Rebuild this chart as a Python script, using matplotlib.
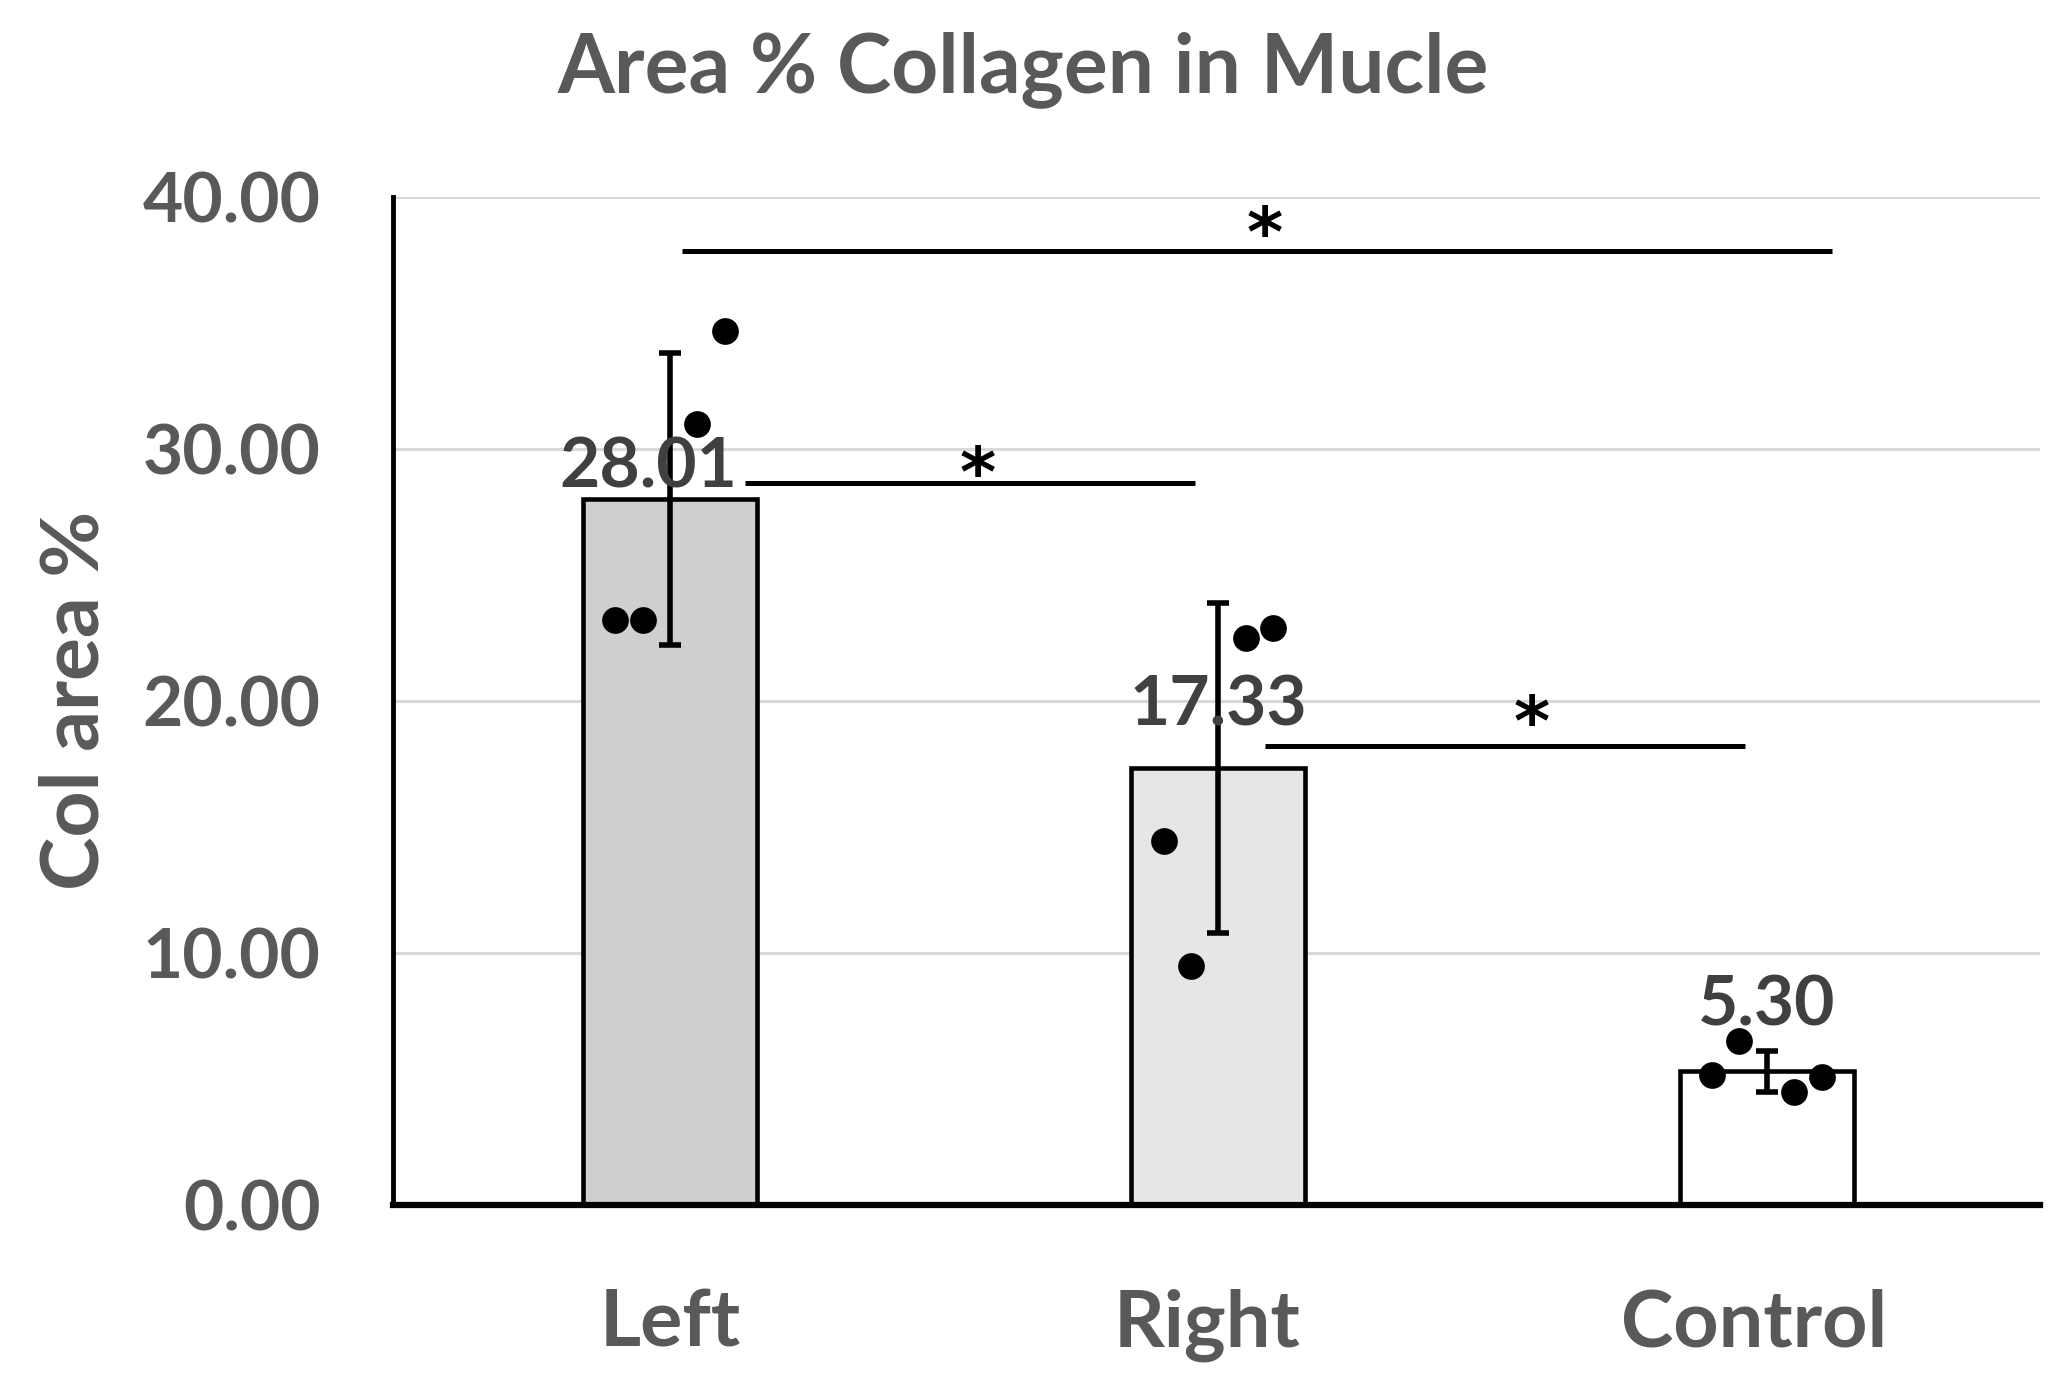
import matplotlib
matplotlib.use("Agg")
import matplotlib.pyplot as plt
import matplotlib.transforms as mtransforms
import numpy as np

# ---- data ----
categories = ["Left", "Right", "Control"]
means = [28.01, 17.33, 5.30]
sds = [5.8, 6.55, 0.82]
left_points = [23.2, 23.2, 31.0, 34.7]
right_points = [14.45, 9.5, 22.5, 22.9]
control_points = [5.15, 6.5, 4.47, 5.08]
mean_labels = ["28.01", "17.33", "5.30"]
yticks = [0, 10, 20, 30, 40]
ytick_labels = ["0.00", "10.00", "20.00", "30.00", "40.00"]
# significance brackets: (x_start, x_end, y)
sig_pairs = [(0.137, 0.957, 28.65), (1.085, 1.96, 18.2), (0.022, 2.118, 37.86)]
sig_text = ["*", "*", "*"]
title = "Area % Collagen in Mucle"
ylabel = "Col area %"

# ---- style / layout ----
plt.rcParams['font.family'] = ['Lato', 'DejaVu Sans']
GRAY_TXT = "#595959"
LBL_TXT = "#404040"
bar_colors = ["#D0CECE", "#E7E6E6", "#FFFFFF"]
jitter = [-0.1, -0.05, 0.05, 0.1]
star_pos = [(0.562, 29.44), (1.572, 19.56), (1.085, 38.97)]  # asterisk centres
label_off = [(-22, 12), (0, 43), (0, 46)]                     # px offsets
xtick_shift = [0, -11, -13]                                   # px

W, H = 2070, 1379
fig = plt.figure(figsize=(W / 100, H / 100), dpi=100)
ax = fig.add_axes([393 / W, 1 - 1205 / H, (2040 - 393) / W, (1205 - 197) / H])

x = np.arange(len(categories))
ax.bar(x, means, width=0.317, color=bar_colors, edgecolor="black",
       linewidth=3.3, zorder=3)
ax.errorbar(x, means, yerr=sds, fmt="none", ecolor="black", elinewidth=4.0,
            capsize=8.0, capthick=4.0, zorder=4)

all_points = [left_points, right_points, control_points]
for i, pts in enumerate(all_points):
    ax.scatter(np.full(len(pts), x[i]) + np.array(jitter), pts, s=370,
               color="black", zorder=5, linewidths=0)

for i, lab in enumerate(mean_labels):
    ax.annotate(lab, (x[i], means[i]),
                xytext=(label_off[i][0] * 0.72, label_off[i][1] * 0.72),
                textcoords="offset points", ha="center", va="baseline",
                fontsize=50, fontweight="bold", color=LBL_TXT, zorder=6)

# significance lines and asterisks
STAR_FS = 50
for (x0, x1, yv), t, (sx, sy) in zip(sig_pairs, sig_text, star_pos):
    ax.plot([x0, x1], [yv, yv], color="black", lw=3.6, solid_capstyle="butt",
            zorder=4)
    ax.annotate(t, (sx, sy), xytext=(0, -0.48 * STAR_FS), textcoords="offset points",
                ha="center", va="baseline", fontsize=STAR_FS, fontweight="bold",
                family="DejaVu Sans", color="black", zorder=6)

ax.set_xlim(-0.505, 2.498)
ax.set_ylim(0, 40)
ax.set_yticks(yticks)
ax.set_yticklabels(ytick_labels)
ax.set_xticks(x)
ax.set_xticklabels(categories, va="baseline")
ax.tick_params(axis="y", length=0, pad=52, labelsize=50, labelcolor=GRAY_TXT)
ax.tick_params(axis="x", length=0, pad=102, labelsize=57, labelcolor=GRAY_TXT)
for lab in ax.get_xticklabels() + ax.get_yticklabels():
    lab.set_fontweight("bold")
for lab, dx in zip(ax.get_xticklabels(), xtick_shift):
    lab.set_transform(lab.get_transform() +
                      mtransforms.ScaledTranslation(dx / 100, 0, fig.dpi_scale_trans))

ax.grid(axis="y", color="#D9D9D9", lw=2.2, zorder=0)
ax.set_axisbelow(True)
for s in ["top", "right"]:
    ax.spines[s].set_visible(False)
ax.spines["left"].set_linewidth(3.5)
ax.spines["bottom"].set_linewidth(4.5)
ax.spines["left"].set_zorder(6)
ax.spines["bottom"].set_zorder(6)

ax.set_ylabel(ylabel, fontsize=58, fontweight="bold", color=GRAY_TXT)
ax.yaxis.label.set_va("center")
ax.yaxis.set_label_coords((75 - 393) / (2040 - 393), 0.501)

fig.text(1023 / W, 1 - 92 / H, title, ha="center", va="baseline",
         fontsize=59, fontweight="bold", color=GRAY_TXT)

fig.savefig("out.png", dpi=100, facecolor="white")
